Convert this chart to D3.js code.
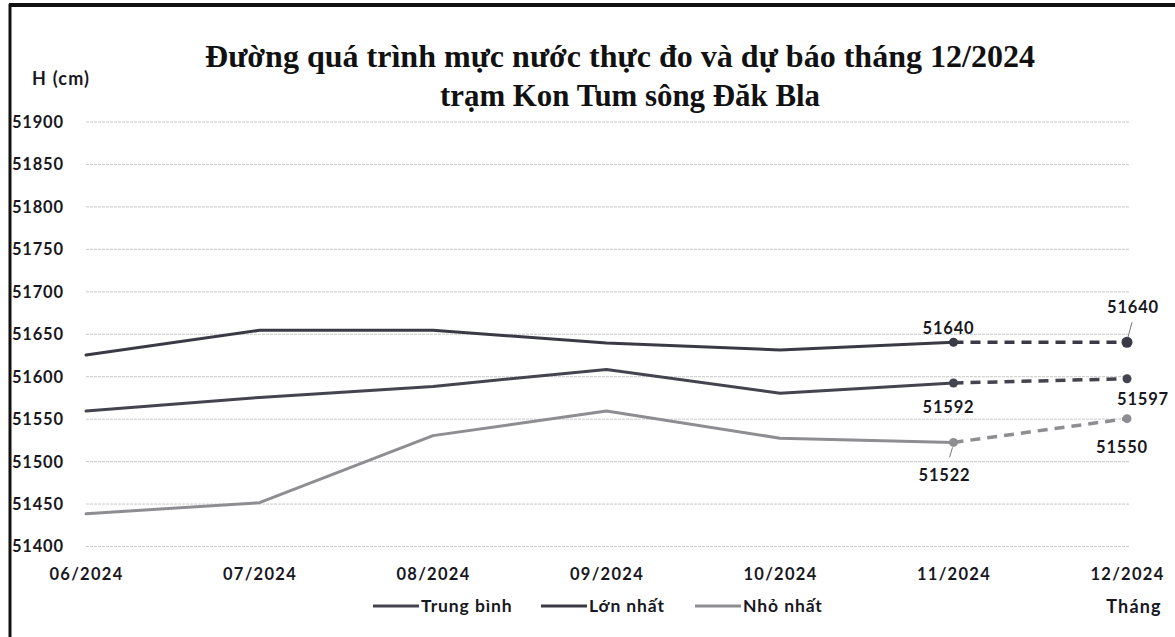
<!DOCTYPE html>
<html>
<head>
<meta charset="utf-8">
<script src="https://cdn.jsdelivr.net/npm/d3@7"></script>
<style>
  html, body { margin: 0; padding: 0; background: #fff; }
  svg { display: block; }
  .lbl { font-family: Lato, "Open Sans", sans-serif; font-weight: 700; fill: #18181e; }
</style>
</head>
<body>
<svg id="chart" width="1175" height="637"></svg>
<script>
// Monthly water level at Kon Tum station (Đăk Bla river), cm
const months = ["06/2024", "07/2024", "08/2024", "09/2024", "10/2024", "11/2024", "12/2024"];
const maxLevel = [51625, 51654, 51654, 51639, 51631, 51640, 51640];   // Lớn nhất
const meanLevel = [51559, 51575, 51588, 51608, 51580, 51592, 51597];  // Trung bình
const minLevel = [51438, 51451, 51530, 51559, 51527, 51522, 51550];   // Nhỏ nhất
const yTicks = [51400, 51450, 51500, 51550, 51600, 51650, 51700, 51750, 51800, 51850, 51900];
const forecastFrom = 5; // index of last observed month; the segment after it is a forecast

const titleLines = ["Đường quá trình mực nước thực đo và dự báo tháng 12/2024", "trạm Kon Tum sông Đăk Bla"];

const svg = d3.select("#chart");
const W = 1175, H = 637;

const x = d3.scalePoint().domain(months).range([86, 1127]);
const y = d3.scaleLinear().domain([51400, 51900]).range([546, 121.5]);

// frame (top and left edges)
svg.append("line").attr("x1", 9).attr("x2", W).attr("y1", 5).attr("y2", 5)
  .attr("stroke", "#111").attr("stroke-width", 4);
svg.append("line").attr("x1", 10).attr("x2", 10).attr("y1", 4).attr("y2", H)
  .attr("stroke", "#111").attr("stroke-width", 3);

// title
const title = svg.append("text")
  .attr("text-anchor", "middle")
  .attr("font-family", "'Liberation Serif', 'DejaVu Serif', serif")
  .attr("font-weight", 700).attr("font-size", 31).attr("fill", "#111");
title.append("tspan").attr("x", 620).attr("y", 67).text(titleLines[0])
  .attr("textLength", 830).attr("lengthAdjust", "spacingAndGlyphs");
title.append("tspan").attr("x", 630).attr("y", 106).text(titleLines[1])
  .attr("textLength", 380).attr("lengthAdjust", "spacingAndGlyphs");

// axis unit
svg.append("text").attr("class", "lbl").attr("x", 32).attr("y", 79).attr("dy", "0.36em")
  .attr("font-size", 18).attr("font-weight", 400).attr("letter-spacing", 1.2).text("H (cm)");

// horizontal grid + y labels via axis
const yAxis = d3.axisLeft(y).tickValues(yTicks).tickSize(-(1130 - 86)).tickFormat(d3.format("d"));
const gy = svg.append("g").attr("transform", "translate(86,0)").call(yAxis);
gy.select(".domain").remove();
gy.selectAll(".tick line").attr("stroke", "#c9c9cc").attr("stroke-width", 1).attr("stroke-dasharray", "3,1");
gy.selectAll(".tick text")
  .attr("class", "lbl").attr("font-size", 16.5).attr("letter-spacing", 0.8)
  .attr("text-anchor", "start").attr("x", 12 - 86).attr("dy", "0.36em");

// x labels via axis
const xAxis = d3.axisBottom(x).tickSize(0).tickPadding(0);
const gx = svg.append("g").attr("transform", "translate(0,568)").call(xAxis);
gx.select(".domain").remove();
gx.selectAll(".tick text").attr("class", "lbl").attr("font-size", 16.5).attr("letter-spacing", 1.3).attr("dy", "0.75em");

svg.append("text").attr("class", "lbl").attr("x", 1134).attr("y", 607).attr("dy", "0.36em")
  .attr("text-anchor", "middle").attr("font-size", 18).attr("letter-spacing", 1.2).text("Tháng");

// series
const series = [
  { name: "Trung bình", values: meanLevel, color: "#44444f", width: 3 },
  { name: "Lớn nhất", values: maxLevel, color: "#3a3a44", width: 3 },
  { name: "Nhỏ nhất", values: minLevel, color: "#8e8e92", width: 3 }
];

const line = d3.line().x(d => x(d.m)).y(d => y(d.v));

series.forEach(s => {
  const pts = s.values.map((v, i) => ({ m: months[i], v }));
  svg.append("path").datum(pts.slice(0, forecastFrom + 1)).attr("d", line)
    .attr("fill", "none").attr("stroke", s.color).attr("stroke-width", s.width)
    .attr("stroke-linejoin", "round").attr("stroke-linecap", "round");
  svg.append("path").datum(pts.slice(forecastFrom)).attr("d", line)
    .attr("fill", "none").attr("stroke", s.color).attr("stroke-width", 3.5)
    .attr("stroke-dasharray", "10,7");
  svg.selectAll(null).data(pts.slice(forecastFrom)).enter().append("circle")
    .attr("cx", d => x(d.m)).attr("cy", d => y(d.v))
    .attr("r", (d, i) => i === 1 && s.name === "Lớn nhất" ? 5.5 : 4.5)
    .attr("fill", s.color);
});

// value labels on the last observed and forecast month
const m11 = months[5], m12 = months[6];
const valueLabels = [
  { m: m11, v: maxLevel[5], dx: -5, dy: -14, leader: null },
  { m: m12, v: maxLevel[6], dx: 6, dy: -35, leader: [5, -20, 1, -5] },
  { m: m11, v: meanLevel[5], dx: -5, dy: 24, leader: null },
  { m: m12, v: meanLevel[6], dx: 16, dy: 20, leader: null },
  { m: m11, v: minLevel[5], dx: -9, dy: 33, leader: [-4, 15, -1, 5] },
  { m: m12, v: minLevel[6], dx: -5, dy: 28, leader: null }
];
valueLabels.forEach(l => {
  const cx = x(l.m), cy = y(l.v);
  if (l.leader) {
    const [ax, ay, bx, by] = l.leader;
    svg.append("line")
      .attr("x1", cx + ax).attr("y1", cy + ay)
      .attr("x2", cx + bx).attr("y2", cy + by)
      .attr("stroke", "#777").attr("stroke-width", 1);
  }
  svg.append("text").attr("class", "lbl")
    .attr("x", cx + l.dx).attr("y", cy + l.dy).attr("dy", "0.36em")
    .attr("text-anchor", "middle").attr("font-size", 16.5).attr("letter-spacing", 0.8)
    .text(l.v);
});

// legend
const legend = [
  { s: series[0], x0: 373 },
  { s: series[1], x0: 541 },
  { s: series[2], x0: 695 }
];
legend.forEach(l => {
  svg.append("line").attr("x1", l.x0).attr("x2", l.x0 + 46).attr("y1", 606).attr("y2", 606)
    .attr("stroke", l.s.color).attr("stroke-width", 3);
  svg.append("text").attr("class", "lbl").attr("x", l.x0 + 48).attr("y", 606).attr("dy", "0.36em")
    .attr("font-size", 17.5).attr("letter-spacing", 0.9).text(l.s.name);
});
</script>
</body>
</html>
